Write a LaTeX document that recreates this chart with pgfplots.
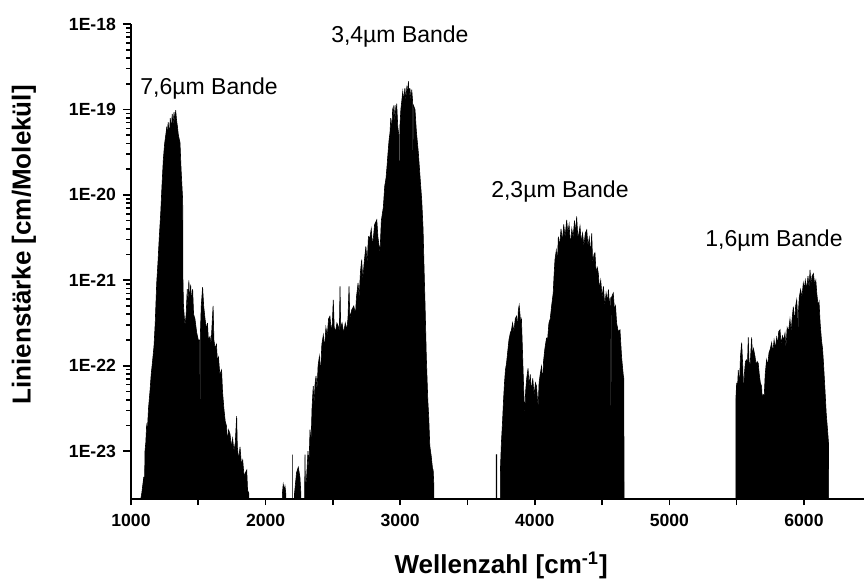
\documentclass[border=0pt]{standalone}
\usepackage{fontspec}
\setmainfont{Liberation Sans}
\usepackage{pgfplots}
\pgfplotsset{compat=1.18}
\begin{document}
\begin{tikzpicture}
\begin{axis}[
  at={(0,0)}, anchor=south west,
  scale only axis, width=366.5pt, height=237.5pt,
  ymode=log,
  xmin=1000, xmax=6446, ymin=2.75e-24, ymax=1e-18,
  axis x line*=bottom, axis y line*=left,
  axis line style={line width=1pt},
  tick align=outside,
  every tick/.style={black, line width=0.8pt},
  major tick length=4pt, minor tick length=2.3pt,
  x tick style={/pgfplots/major tick length=3pt,/pgfplots/minor tick length=3pt},
  xtick={1000,2000,3000,4000,5000,6000},
  xticklabels={1000,2000,3000,4000,5000,6000},
  minor x tick num=1,
  ytick={1e-23,1e-22,1e-21,1e-20,1e-19,1e-18},
  yticklabels={1E-23,1E-22,1E-21,1E-20,1E-19,1E-18},
  tick label style={font=\bfseries\fontsize{8.8}{10}\selectfont},
  xlabel={Wellenzahl [cm\textsuperscript{-1}]},
  ylabel={Linienstärke [cm/Molekül]},
  label style={font=\bfseries\fontsize{13}{15}\selectfont},
  xlabel style={at={(axis description cs:0.505,-0.156)}, anchor=base},
  ylabel style={at={(axis description cs:-0.146,0.535)}, anchor=center, rotate=0},
  clip mode=individual,
]
% 7,6 um band
\addplot[fill=black, draw=black, line width=0.3pt] coordinates {
(1065,1e-25)(1068,2.5e-24)(1080,3.2e-24)(1095,5.0e-24)(1100,3.5e-24)(1104,1e-23)(1110,1.26e-23)
(1116,2.0e-23)(1122,1.78e-23)(1130,3.16e-23)(1141,5.0e-23)(1150,7.9e-23)(1160,1.12e-22)
(1171,1.7e-22)(1180,3.16e-22)(1191,9.3e-22)(1200,1.58e-21)(1210,3.16e-21)(1221,6.2e-21)
(1230,1.26e-20)(1240,2.57e-20)(1250,4.0e-20)(1260,5.25e-20)(1266,6.3e-20)(1270,4.5e-20)
(1276,7.1e-20)(1285,5.0e-20)(1292,7.9e-20)(1300,5.6e-20)(1306,8.9e-20)(1312,6.3e-20)
(1320,9.3e-20)(1326,7.1e-20)(1332,9.8e-20)(1338,7.6e-20)(1345,6.3e-20)(1352,5.0e-20)
(1364,4.1e-20)(1372,2.0e-20)(1384,8.7e-21)(1386,1e-21)(1390,5.0e-22)(1401,2.9e-22)
(1410,4.0e-22)(1418,7.9e-22)(1422,4.5e-22)(1430,1e-21)(1436,5.0e-22)(1443,8.9e-22)
(1450,5.6e-22)(1458,7.9e-22)(1465,4.0e-22)(1475,3.55e-22)(1488,2.45e-22)(1500,2.0e-22)
(1510,2.0e-22)(1513,6.3e-24)(1516,2.5e-22)(1522,5.0e-22)(1532,8.3e-22)(1540,5.0e-22)
(1550,3.55e-22)(1561,2.63e-22)(1568,3.16e-22)(1575,2.0e-22)(1587,2.19e-22)(1595,1.78e-22)
(1603,3.16e-22)(1610,5.0e-22)(1616,2.0e-22)(1625,1.58e-22)(1635,1.78e-22)(1642,1.12e-22)
(1650,1.26e-22)(1660,7.9e-23)(1673,8.9e-23)(1680,5.0e-23)(1690,3.16e-23)(1700,2.24e-23)
(1710,1.95e-23)(1716,1.26e-23)(1725,1.78e-23)(1736,1.58e-23)(1745,1.12e-23)(1755,1.41e-23)
(1765,1e-23)(1775,1.26e-23)(1785,2.57e-23)(1790,1.12e-23)(1800,7.9e-24)(1810,1.12e-23)
(1820,7.1e-24)(1830,7.9e-24)(1840,5.0e-24)(1850,5.6e-24)(1860,6.0e-24)(1866,3.5e-24)
(1875,3.2e-24)(1880,1e-25)
};
% small features near 2100-2270
\addplot[fill=black, draw=black, line width=0.3pt] coordinates {
(2120,1e-25)(2125,3.2e-24)(2131,4.1e-24)(2138,3.5e-24)(2144,3.9e-24)(2150,3.2e-24)(2155,1e-25)
};
\addplot[fill=black, draw=black, line width=0.3pt] coordinates {
(2197,1e-25)(2199,9.1e-24)(2201,1e-25)
};
\addplot[fill=black, draw=black, line width=0.3pt] coordinates {
(2210,1e-25)(2215,3.2e-24)(2230,5.6e-24)(2243,6.5e-24)(2255,5.0e-24)(2262,3.2e-24)(2270,1e-25)
};
% 3,4 um band
\addplot[fill=black, draw=black, line width=0.3pt] coordinates {
(2285,1e-25)(2290,3.2e-24)(2293,9.1e-24)(2296,3.2e-24)(2305,5.0e-24)(2315,1e-23)(2322,6.3e-24)
(2330,1.78e-23)(2338,1.26e-23)(2345,3.16e-23)(2354,5.75e-23)(2360,3.5e-23)(2368,6.3e-23)
(2375,7.6e-23)(2382,5.0e-23)(2390,1e-22)(2400,1.29e-22)(2408,7.9e-23)(2418,1.78e-22)
(2429,2.29e-22)(2438,1.58e-22)(2448,2.8e-22)(2458,2.24e-22)(2468,3.55e-22)(2478,3.8e-22)
(2488,2.5e-22)(2496,3.16e-22)(2503,5.9e-22)(2510,2.8e-22)(2520,2.5e-22)(2530,3.16e-22)
(2540,2.9e-22)(2548,2.5e-22)(2553,8.5e-22)(2558,2.8e-22)(2568,3.16e-22)(2580,2.4e-22)
(2592,3.16e-22)(2603,2.63e-22)(2612,3.55e-22)(2620,8.5e-22)(2626,3.55e-22)(2640,4.5e-22)
(2655,5.0e-22)(2668,4.0e-22)(2675,6.3e-22)(2687,9.3e-22)(2695,6.3e-22)(2705,1.26e-21)
(2714,1.74e-21)(2722,1e-21)(2732,1.58e-21)(2745,2.5e-21)(2755,1.58e-21)(2764,3.24e-21)
(2775,3.16e-21)(2785,4.0e-21)(2795,2.5e-21)(2810,4.5e-21)(2826,5.1e-21)(2835,3.16e-21)
(2850,2.1e-21)(2860,5.0e-21)(2875,7.2e-21)(2885,1.26e-20)(2895,1.58e-20)(2902,2.14e-20)
(2910,3.16e-20)(2918,4.5e-20)(2924,5.25e-20)(2930,7.9e-20)(2938,5.6e-20)(2944,1e-19)
(2949,1.07e-19)(2955,7.1e-20)(2962,1.12e-19)(2968,7.9e-20)(2974,1.17e-19)(2982,6.3e-20)
(2990,5.0e-20)(2994,1e-21)(2998,6.3e-20)(3005,1e-19)(3012,1.26e-19)(3019,1.62e-19)
(3026,1.26e-19)(3035,1.78e-19)(3042,1.26e-19)(3050,1.9e-19)(3056,1.41e-19)(3061,2.14e-19)
(3066,1.41e-19)(3072,1.78e-19)(3080,1.26e-19)(3086,1.7e-19)(3092,1.26e-19)(3095,6.3e-21)
(3098,1.12e-19)(3110,1e-19)(3120,5.6e-20)(3135,3.1e-20)(3148,1.58e-20)(3160,8.7e-21)
(3170,4.0e-21)(3177,1.45e-21)(3185,5.0e-22)(3194,1.29e-22)(3205,4.0e-23)(3212,2.5e-23)
(3220,1.15e-23)(3230,8.9e-24)(3240,6.3e-24)(3245,6.0e-24)(3250,4.0e-24)(3252,1e-25)
};
% 2,3 um band
\addplot[fill=black, draw=black, line width=0.3pt] coordinates {
(3712,1e-25)(3714,9.1e-24)(3718,9.1e-24)(3720,1e-25)
};
\addplot[fill=black, draw=black, line width=0.3pt] coordinates {
(3740,1e-25)(3745,6.3e-24)(3752,1.26e-23)(3760,2.14e-23)(3768,4.0e-23)(3775,6.3e-23)
(3782,8.9e-23)(3790,1.07e-22)(3798,1.41e-22)(3808,2.0e-22)(3818,2.4e-22)(3827,2.63e-22)
(3835,3.16e-22)(3845,2.5e-22)(3855,3.55e-22)(3864,3.8e-22)(3872,2.8e-22)(3878,4.5e-22)
(3884,5.1e-22)(3890,4.0e-22)(3895,3.16e-22)(3901,3.5e-22)(3910,1.26e-22)(3918,5.0e-23)
(3926,2.57e-23)(3932,5.0e-23)(3940,7.1e-23)(3950,9.3e-23)(3958,5.6e-23)(3966,7.9e-23)
(3975,5.0e-23)(3985,7.1e-23)(3995,4.5e-23)(4005,6.3e-23)(4013,5.75e-23)(4020,4.0e-23)
(4025,3.3e-23)(4032,6.3e-23)(4040,7.9e-23)(4050,9.8e-23)(4058,6.3e-23)(4065,1.12e-22)
(4075,1.58e-22)(4087,2.1e-22)(4095,2.0e-22)(4105,3.16e-22)(4115,3.55e-22)(4125,5.0e-22)
(4137,7.1e-22)(4143,1.12e-21)(4150,1.74e-21)(4160,2.24e-21)(4168,1.58e-21)(4175,3.24e-21)
(4185,2.5e-21)(4195,4.0e-21)(4205,2.8e-21)(4215,4.5e-21)(4225,3.16e-21)(4237,5.1e-21)
(4245,3.55e-21)(4255,4.5e-21)(4265,2.5e-21)(4275,4.0e-21)(4285,3.16e-21)(4295,5.0e-21)
(4305,3.55e-21)(4311,5.6e-21)(4320,3.16e-21)(4328,3.55e-21)(4336,4.3e-21)(4345,2.8e-21)
(4355,3.55e-21)(4365,2.5e-21)(4375,3.55e-21)(4386,3.9e-21)(4395,2.5e-21)(4405,3.16e-21)
(4415,2.0e-21)(4423,3.55e-21)(4430,1.58e-21)(4440,2.0e-21)(4447,2.1e-21)(4455,1.26e-21)
(4465,1.41e-21)(4472,1.2e-21)(4480,7.9e-22)(4490,1e-21)(4500,6.3e-22)(4510,8.5e-22)
(4520,5.0e-22)(4530,7.1e-22)(4540,5.6e-22)(4547,7.8e-22)(4555,5.0e-22)(4562,6.3e-22)
(4566,5.0e-24)(4570,6.3e-22)(4583,7.1e-22)(4592,4.5e-22)(4600,5.0e-22)(4608,3.16e-22)
(4620,2.5e-22)(4633,2.63e-22)(4645,1.26e-22)(4658,7.6e-23)(4662,7.1e-23)(4664,1e-25)
};
% 1,6 um band
\addplot[fill=black, draw=black, line width=0.3pt] coordinates {
(5492,1e-25)(5495,4.4e-23)(5500,6.3e-23)(5505,5.0e-23)(5512,8.9e-23)(5520,5.6e-23)
(5528,1.26e-22)(5537,1.86e-22)(5545,1e-22)(5552,4.0e-23)(5557,7.9e-23)(5565,1.12e-22)
(5574,1.17e-22)(5580,1e-22)(5586,2.14e-22)(5592,1.12e-22)(5600,1e-22)(5611,2.14e-22)
(5618,1.26e-22)(5625,1.58e-22)(5636,1.29e-22)(5645,1e-22)(5652,1.12e-22)(5660,1.07e-22)
(5668,7.9e-23)(5676,6.3e-23)(5685,5.75e-23)(5690,4.0e-23)(5697,4.6e-23)(5705,4.5e-23)
(5712,7.9e-23)(5722,1.17e-22)(5730,1e-22)(5740,1.41e-22)(5750,1.58e-22)(5760,1.86e-22)
(5768,1.41e-22)(5778,2.0e-22)(5787,1.58e-22)(5797,2.14e-22)(5805,1.78e-22)(5812,2.5e-22)
(5822,2.63e-22)(5830,1.78e-22)(5840,2.24e-22)(5850,2.0e-22)(5859,2.4e-22)(5866,1.58e-22)
(5875,2.8e-22)(5885,2.5e-22)(5896,3.5e-22)(5905,2.5e-22)(5912,3.55e-22)(5921,4.9e-22)
(5930,3.16e-22)(5938,5.0e-22)(5946,5.9e-22)(5950,4.5e-22)(5953,1.58e-23)(5958,4.0e-22)
(5965,6.3e-22)(5975,7.8e-22)(5985,6.3e-22)(5995,9.3e-22)(6003,7.9e-22)(6010,1e-21)
(6020,7.9e-22)(6030,1.12e-21)(6038,7.9e-22)(6045,1.32e-21)(6052,8.9e-22)(6060,1.12e-21)
(6070,1.2e-21)(6080,8.9e-22)(6088,1e-21)(6095,7.1e-22)(6105,5.0e-22)(6112,5.6e-22)
(6120,3.16e-22)(6130,2.0e-22)(6138,1.58e-22)(6145,1.07e-22)(6155,5.6e-23)(6165,2.8e-23)
(6175,1.78e-23)(6182,1.26e-23)(6186,1e-25)
};
\node[font=\fontsize{11.5}{13}\selectfont] at (axis cs:1580,1.78e-19) {7,6µm Bande};
\node[font=\fontsize{11.5}{13}\selectfont] at (axis cs:2998,7.2e-19) {3,4µm Bande};
\node[font=\fontsize{11.5}{13}\selectfont] at (axis cs:4187,1.1e-20) {2,3µm Bande};
\node[font=\fontsize{11.5}{13}\selectfont] at (axis cs:5777,2.95e-21) {1,6µm Bande};
\end{axis}
\pgfresetboundingbox
\path[use as bounding box] (-65.5pt,-40.5pt) rectangle (366.5pt,249.5pt);
\end{tikzpicture}
\end{document}
